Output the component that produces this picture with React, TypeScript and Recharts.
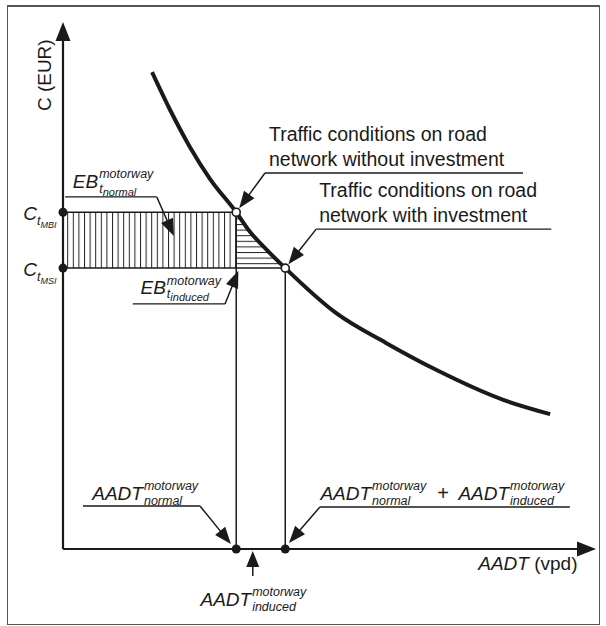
import React from 'react';
import { ComposedChart, Line, Area, XAxis, YAxis, ReferenceLine, ReferenceArea, ReferenceDot } from 'recharts';

// demand curve (both axes run 0..100)
const curveAadt = [16.7, 20.1, 23.8, 27.6, 32.5, 35, 38, 41.7, 51.2, 60.6, 70.0, 82.6, 91.4];
const curveCost = [90.5, 83.3, 76.3, 70.2, 63.9, 60.3, 57.0, 53.3, 44.8, 39.1, 34.0, 28.3, 25.6];

const aadtNormal = 32.5;
const aadtTotal = 41.7;
const costMBI = 63.9;
const costMSI = 53.3;

// induced benefit triangle, under the curve
const triAadt = [32.5, 35, 38, 41.7];
const triCost = [63.9, 60.3, 57.0, 53.3];

const trafficWithout = ['Traffic conditions on road', 'network without investment'];
const trafficWith = ['Traffic conditions on road', 'network with investment'];

const curve = curveAadt.map((x, i) => ({ x, y: curveCost[i] }));
const tri = triAadt.map((x, i) => ({ x, y: triCost[i] }));

const FONT = '"Liberation Sans", Arial, sans-serif';
const INK = '#1a1a1a';

const Arrow = (p: any) => {
  const { x1, y1, x2, y2, head = 17, half = 6.5, gap = 0, sw = 1.5 } = p;
  const dx = x2 - x1;
  const dy = y2 - y1;
  const len = Math.hypot(dx, dy) || 1;
  const ux = dx / len;
  const uy = dy / len;
  const tx = x2 - ux * gap;
  const ty = y2 - uy * gap;
  const bx = tx - ux * head;
  const by = ty - uy * head;
  return (
    <g>
      <line x1={x1} y1={y1} x2={bx + ux * 2} y2={by + uy * 2} stroke={INK} strokeWidth={sw} />
      <polygon points={`${tx},${ty} ${bx - uy * half},${by + ux * half} ${bx + uy * half},${by - ux * half}`} fill={INK} />
    </g>
  );
};

// base symbol ends at x, scripts start at x
const Sym = ({ x, y, base, sup, sub, subsub, supDy = -10, subDy = 5 }: any) => (
  <g fontFamily={FONT} fontStyle="italic" fill={INK}>
    <text x={x} y={y} fontSize={19} textAnchor="end">{base}</text>
    <text x={x + 1} y={y + supDy} fontSize={12.5}>{sup}</text>
    <text x={x + 1} y={y + subDy} fontSize={12.5}>
      {sub}
      {subsub && <tspan fontSize={11} dy={3}>{subsub}</tspan>}
    </text>
  </g>
);

const TwoLines = ({ x, y, lines }: any) => (
  <g fontFamily={FONT} fontSize={19.5} fill={INK}>
    <text x={x} y={y}>{lines[0]}</text>
    <text x={x} y={y + 25}>{lines[1]}</text>
  </g>
);

const CLabel = ({ x, y, sub }: any) => (
  <g fontFamily={FONT} fontStyle="italic" fill={INK}>
    <text x={x} y={y} fontSize={19} textAnchor="end">C</text>
    <text x={x} y={y + 5} fontSize={12.5}>
      t<tspan fontSize={9} dy={3}>{sub}</tspan>
    </text>
  </g>
);

const line = (a: [number, number], b: [number, number], w = 1.5) => (
  <ReferenceLine
    segment={[{ x: a[0], y: a[1] }, { x: b[0], y: b[1] }]}
    stroke={INK}
    strokeWidth={w}
    ifOverflow="visible"
  />
);

const arrow = (a: [number, number], b: [number, number], opts: any = {}) => (
  <ReferenceLine
    segment={[{ x: a[0], y: a[1] }, { x: b[0], y: b[1] }]}
    ifOverflow="visible"
    shape={(p: any) => <Arrow {...p} {...opts} />}
  />
);

const label = (x: number, y: number, render: (cx: number, cy: number) => React.ReactNode) => (
  <ReferenceDot x={x} y={y} r={0} ifOverflow="visible" shape={(p: any) => <g>{render(p.cx, p.cy)}</g>} />
);

export default function App() {
  return (
    <div style={{ position: 'absolute', left: 0, top: 0, width: 606, height: 626, background: '#fff' }}>
      <div
        style={{
          position: 'absolute',
          left: 7,
          top: 5,
          width: 593,
          height: 620,
          boxSizing: 'border-box',
          border: '1.5px solid #555',
          borderTopWidth: 2,
        }}
      />
      <div style={{ position: 'absolute', left: 0, top: 0 }}>
        <ComposedChart width={606} height={626} margin={{ top: 22, right: 10, bottom: 77, left: 63 }}>
          <defs>
            <pattern id="vhatch" patternUnits="userSpaceOnUse" width={5.6} height={8}>
              <line x1={0.5} y1={0} x2={0.5} y2={8} stroke="#222" strokeWidth={1} />
            </pattern>
            <pattern id="hhatch" patternUnits="userSpaceOnUse" width={8} height={5.6}>
              <line x1={0} y1={0.5} x2={8} y2={0.5} stroke="#222" strokeWidth={1} />
            </pattern>
          </defs>
          <XAxis type="number" dataKey="x" domain={[0, 100]} hide allowDataOverflow />
          <YAxis type="number" domain={[0, 100]} hide allowDataOverflow />

          <ReferenceArea x1={0} x2={aadtNormal} y1={costMSI} y2={costMBI} fill="url(#vhatch)" fillOpacity={1} stroke="none" ifOverflow="visible" />
          <Area data={tri} dataKey="y" type="linear" baseValue={costMSI} fill="url(#hhatch)" fillOpacity={1} stroke="none" isAnimationActive={false} />

          {line([0, costMBI], [aadtNormal, costMBI])}
          {line([0, costMSI], [aadtTotal, costMSI])}
          {line([aadtNormal, 0], [aadtNormal, costMBI])}
          {line([aadtTotal, 0], [aadtTotal, costMSI])}

          {arrow([0, 0], [100, 0], { head: 19, half: 7.5, sw: 2.2 })}
          {arrow([0, 0], [0, 100], { head: 19, half: 7.5, sw: 2.2 })}

          <Line data={curve} dataKey="y" type="monotone" stroke={INK} strokeWidth={4} dot={false} isAnimationActive={false} />

          {/* leaders */}
          {line([37.9, 71.35], [86.3, 71.35], 1.3)}
          {arrow([37.9, 71.35], [aadtNormal, costMBI], { gap: 5 })}
          {line([47.5, 60.7], [91.6, 60.7], 1.3)}
          {arrow([47.5, 60.7], [aadtTotal, costMSI], { gap: 5 })}
          {line([0.4, 66.8], [17.6, 66.8], 1.3)}
          {arrow([17.6, 66.8], [20.8, 59.4])}
          {line([13.1, 46.5], [30.4, 46.5], 1.3)}
          {arrow([30.4, 46.5], [32.9, 52.8])}
          {line([3.75, 8.16], [25.7, 8.16], 1.3)}
          {arrow([25.7, 8.16], [31.5, 0.95])}
          {line([48.2, 7.97], [95.1, 7.97], 1.3)}
          {arrow([48.2, 7.97], [42.4, 1.14])}
          {arrow([35.6, -5.12], [35.6, -0.38], { head: 16, half: 6.5 })}

          {/* points */}
          <ReferenceDot x={0} y={costMBI} r={4.5} fill={INK} stroke="none" ifOverflow="visible" />
          <ReferenceDot x={0} y={costMSI} r={4.5} fill={INK} stroke="none" ifOverflow="visible" />
          <ReferenceDot x={aadtNormal} y={0} r={4.5} fill={INK} stroke="none" ifOverflow="visible" />
          <ReferenceDot x={aadtTotal} y={0} r={4.5} fill={INK} stroke="none" ifOverflow="visible" />
          <ReferenceDot x={aadtNormal} y={costMBI} r={4} fill="#fff" stroke={INK} strokeWidth={1.6} ifOverflow="visible" />
          <ReferenceDot x={aadtTotal} y={costMSI} r={4} fill="#fff" stroke={INK} strokeWidth={1.6} ifOverflow="visible" />

          {/* labels */}
          {label(37.9, 71.35, (cx, cy) => <TwoLines x={cx + 4} y={cy - 32} lines={trafficWithout} />)}
          {label(47.5, 60.7, (cx, cy) => <TwoLines x={cx + 3} y={cy - 32} lines={trafficWith} />)}
          {label(6.6, 68.5, (cx, cy) => <Sym x={cx} y={cy} base="EB" sup="motorway" sub="t" subsub="normal" />)}
          {label(19.3, 48.4, (cx, cy) => <Sym x={cx} y={cy} base="EB" sup="motorway" sub="t" subsub="induced" supDy={-9} subDy={4} />)}
          {label(0, costMBI, (cx, cy) => <CLabel x={cx - 26} y={cy + 8} sub="MBI" />)}
          {label(0, costMSI, (cx, cy) => <CLabel x={cx - 26} y={cy + 8} sub="MSI" />)}
          {label(0, 89.9, (cx, cy) => (
            <text x={cx - 12} y={cy} transform={`rotate(-90 ${cx - 12} ${cy})`} textAnchor="middle" fontFamily={FONT} fontSize={19} fill={INK}>
              C (EUR)
            </text>
          ))}
          {label(15.0, 9.3, (cx, cy) => <Sym x={cx} y={cy} base="AADT" sup="motorway" sub="normal" />)}
          {label(57.8, 9.3, (cx, cy) => (
            <g>
              <Sym x={cx} y={cy} base="AADT" sup="motorway" sub="normal" />
              <text x={cx + 72} y={cy} textAnchor="middle" fontFamily={FONT} fontSize={20} fill={INK}>+</text>
              <Sym x={cx + 138} y={cy} base="AADT" sup="motorway" sub="induced" />
            </g>
          ))}
          {label(35.3, -10.8, (cx, cy) => <Sym x={cx} y={cy} base="AADT" sup="motorway" sub="induced" />)}
          {label(77.9, -4.0, (cx, cy) => (
            <text x={cx} y={cy} fontFamily={FONT} fontSize={19} fill={INK}>
              <tspan fontStyle="italic">AADT</tspan> (vpd)
            </text>
          ))}
        </ComposedChart>
      </div>
    </div>
  );
}
